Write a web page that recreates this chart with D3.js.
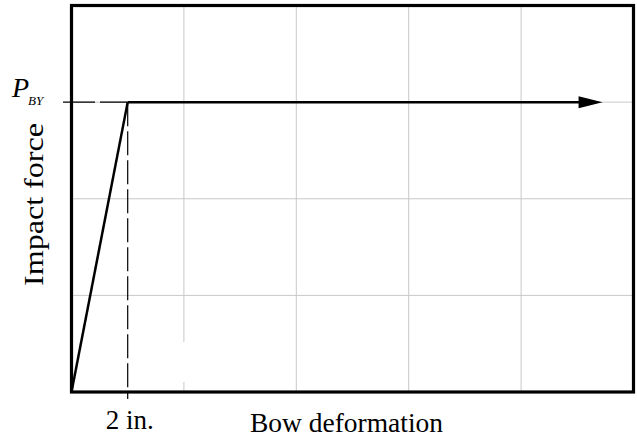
<!DOCTYPE html>
<html><head><meta charset="utf-8">
<script src="https://cdn.jsdelivr.net/npm/d3@7"></script>
<style>body{margin:0;background:#fff}svg{display:block}</style>
</head><body>
<svg id="chart" width="637" height="442"></svg>
<script>
// Data
const xDomain = [0, 20];
const yDomain = [0, 4];
const gridX = [4, 8, 12, 16];
const gridY = [1, 2, 3];
const yieldPoint = {x: 2, y: 3};
const rampData = [[0, 0], [2, 3]];
const plateauData = [[2, 3], [18.9, 3]];
const xTickLabel = "2 in.";
const xAxisTitle = "Bow deformation";
const yAxisTitle = "Impact force";
const yLabelMain = "P";
const yLabelSub = "BY";

const svg = d3.select("#chart");
const L = 71.5, R = 633.5, T = 5.5, B = 392;
const x = d3.scaleLinear().domain(xDomain).range([L, R]);
const y = d3.scaleLinear().domain(yDomain).range([B, T]);
const serif = "'Liberation Serif','Times New Roman',serif";

// grid
svg.append("g").selectAll("line").data(gridX).join("line")
  .attr("x1", d => x(d)).attr("x2", d => x(d)).attr("y1", T).attr("y2", B)
  .attr("stroke", "#c8c8c8").attr("stroke-width", 1);
svg.append("g").selectAll("line").data(gridY).join("line")
  .attr("x1", L).attr("x2", R).attr("y1", d => y(d)).attr("y2", d => y(d))
  .attr("stroke", "#c8c8c8").attr("stroke-width", 1);

// white gap artifact on first vertical grid line
svg.append("rect").attr("x", x(gridX[0]) - 3).attr("y", 342).attr("width", 6).attr("height", 40).attr("fill", "#fff");

// dashed guides
svg.append("line").attr("x1", 63).attr("x2", x(yieldPoint.x))
  .attr("y1", y(yieldPoint.y)).attr("y2", y(yieldPoint.y))
  .attr("stroke", "#000").attr("stroke-width", 1.2).attr("stroke-dasharray", "32,5");
svg.append("line").attr("x1", x(yieldPoint.x)).attr("x2", x(yieldPoint.x))
  .attr("y1", y(yieldPoint.y)).attr("y2", 399)
  .attr("stroke", "#000").attr("stroke-width", 1.2).attr("stroke-dasharray", "24,5");

// ramp
const line = d3.line().x(d => x(d[0])).y(d => y(d[1]));
svg.append("path").attr("d", line(rampData)).attr("fill", "none")
  .attr("stroke", "#000").attr("stroke-width", 2.5);

// plateau with arrow
const tip = plateauData[1];
const headLen = 24, headHalf = 6;
svg.append("path").attr("d", line([plateauData[0], [tip[0], tip[1]]]))
  .attr("fill", "none").attr("stroke", "#000").attr("stroke-width", 2.5)
  .attr("stroke-dasharray", `${x(tip[0]) - x(plateauData[0][0]) - headLen + 2},2000`);
svg.append("path")
  .attr("d", `M${x(tip[0])},${y(tip[1])} L${x(tip[0]) - headLen},${y(tip[1]) - headHalf} L${x(tip[0]) - headLen},${y(tip[1]) + headHalf} Z`)
  .attr("fill", "#000");

// frame
svg.append("rect").attr("x", L).attr("y", T).attr("width", R - L).attr("height", B - T)
  .attr("fill", "none").attr("stroke", "#000").attr("stroke-width", 3.2);

// labels
svg.append("text").attr("x", x(yieldPoint.x) - 22).attr("y", 429)
  .attr("font-family", serif).attr("font-size", 27).text(xTickLabel);
svg.append("text").attr("x", 250).attr("y", 432)
  .attr("font-family", serif).attr("font-size", 27)
  .attr("textLength", 193).attr("lengthAdjust", "spacingAndGlyphs").text(xAxisTitle);
svg.append("text").attr("transform", "translate(43,286) rotate(-90)")
  .attr("font-family", serif).attr("font-size", 27)
  .attr("textLength", 163).attr("lengthAdjust", "spacingAndGlyphs").text(yAxisTitle);
const pl = svg.append("text").attr("x", 12).attr("y", 97)
  .attr("font-family", serif).attr("font-style", "italic").attr("font-size", 28);
pl.append("tspan").text(yLabelMain);
pl.append("tspan").attr("x", 28).attr("y", 105).attr("font-size", 13).text(yLabelSub);
</script>
</body></html>
